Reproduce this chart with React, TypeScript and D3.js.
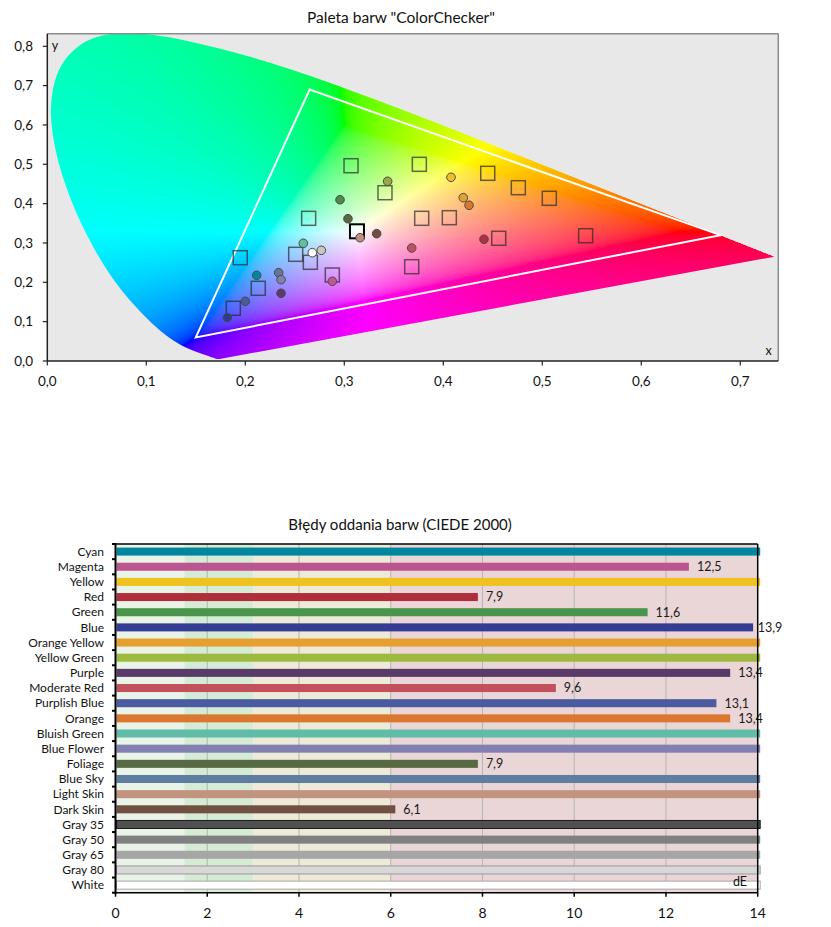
import React, { useMemo } from 'react';
import * as d3 from 'd3';

const FONT = 'Lato, "Open Sans", sans-serif';

// CIE 1931 2° spectral locus, 380–700 nm
const spectralLocus: [number, number][] = [
  [0.1741, 0.005], [0.174, 0.005], [0.1738, 0.0049], [0.1736, 0.0049], [0.1733, 0.0048],
  [0.173, 0.0048], [0.1726, 0.0048], [0.1721, 0.0048], [0.1714, 0.0051], [0.1703, 0.0058],
  [0.1689, 0.0069], [0.1669, 0.0086], [0.1644, 0.0109], [0.1611, 0.0138], [0.1566, 0.0177],
  [0.151, 0.0227], [0.144, 0.0297], [0.1355, 0.0399], [0.1241, 0.0578], [0.1096, 0.0868],
  [0.0913, 0.1327], [0.0687, 0.2007], [0.0454, 0.295], [0.0235, 0.4127], [0.0082, 0.5384],
  [0.0039, 0.6548], [0.0139, 0.7502], [0.0389, 0.812], [0.0743, 0.8338], [0.1142, 0.8262],
  [0.1547, 0.8059], [0.1929, 0.7816], [0.2296, 0.7543], [0.2658, 0.7243], [0.3016, 0.6923],
  [0.3373, 0.6589], [0.3731, 0.6245], [0.4087, 0.5896], [0.4441, 0.5547], [0.4788, 0.5202],
  [0.5125, 0.4866], [0.5448, 0.4544], [0.5752, 0.4242], [0.6029, 0.3965], [0.627, 0.3725],
  [0.6482, 0.3514], [0.6658, 0.334], [0.6801, 0.3197], [0.6915, 0.3083], [0.7006, 0.2993],
  [0.7079, 0.292], [0.714, 0.2859], [0.719, 0.2809], [0.726, 0.274], [0.73, 0.27],
  [0.7334, 0.2666], [0.7347, 0.2653],
];

// display gamut (DCI-P3 primaries: R, G, B)
const gamutX = [0.68, 0.265, 0.15];
const gamutY = [0.32, 0.69, 0.06];

// ColorChecker reference chromaticities (squares)
const targetX = [0.3068, 0.3758, 0.3411, 0.264, 0.3782, 0.4061, 0.1949, 0.2509, 0.2657, 0.2879,
  0.3681, 0.2131, 0.1879, 0.4449, 0.4758, 0.5071, 0.456, 0.5438];
const targetY = [0.4964, 0.5, 0.4278, 0.3627, 0.3627, 0.3643, 0.2626, 0.2712, 0.2509, 0.2186,
  0.2397, 0.1848, 0.134, 0.4771, 0.4405, 0.4136, 0.3119, 0.3185];
// white point target
const whiteTarget = [0.3128, 0.3297];

// measured patches (circles)
const measuredX = [0.3438, 0.2957, 0.3037, 0.3327, 0.3159, 0.2586, 0.2768, 0.2677, 0.2115, 0.2337,
  0.2361, 0.2879, 0.2361, 0.2, 0.1818, 0.4078, 0.4202, 0.426, 0.4411, 0.3681];
const measuredY = [0.4568, 0.41, 0.3617, 0.3236, 0.3134, 0.2992, 0.2814, 0.2753, 0.2178, 0.2245,
  0.2067, 0.2026, 0.1721, 0.1518, 0.1101, 0.467, 0.4151, 0.3958, 0.3094, 0.2872];
const measuredFill = ['#9aa84a', '#4a8a4a', '#5a6a40', '#704f40', '#c09080', '#60c0a0', '#c8c8c0',
  '#ffffff', '#0088a0', '#607898', '#8080b0', '#c05890', '#5a3a6a', '#4a5aa0', '#303a90',
  '#f0c030', '#e8a030', '#d87830', '#b03040', '#c05060'];

const cieXTicks = [0, 0.1, 0.2, 0.3, 0.4, 0.5, 0.6, 0.7];
const cieYTicks = [0, 0.1, 0.2, 0.3, 0.4, 0.5, 0.6, 0.7, 0.8];

// CIEDE2000 errors per patch
const patchNames = ['Cyan', 'Magenta', 'Yellow', 'Red', 'Green', 'Blue', 'Orange Yellow', 'Yellow Green',
  'Purple', 'Moderate Red', 'Purplish Blue', 'Orange', 'Bluish Green', 'Blue Flower', 'Foliage',
  'Blue Sky', 'Light Skin', 'Dark Skin', 'Gray 35', 'Gray 50', 'Gray 65', 'Gray 80', 'White'];
const deltaE = [16.4, 12.5, 17.2, 7.9, 11.6, 13.9, 15.8, 16.1, 13.4, 9.6, 13.1, 13.4, 15.2, 14.9,
  7.9, 15.5, 14.6, 6.1, 17.8, 16.9, 16.2, 15.4, 15.1];
const patchColors = ['#00879f', '#bb5590', '#eec31f', '#b02e3b', '#48954b', '#343c94', '#e6a030',
  '#9db93f', '#5a3a68', '#c2505d', '#4b5ba2', '#da7830', '#60bca6', '#8280b0', '#586a44', '#5f7da0',
  '#c29480', '#705040', '#505050', '#808080', '#a6a6a6', '#d8d8d8', '#ffffff'];
const patchStrokes: (string | null)[] = [null, null, null, null, null, null, null, null, null, null,
  null, null, null, null, null, null, null, null, '#1a1a1a', null, null, '#9a9a9a', '#a8a8a8'];

const ratingEdges = [0, 1.5, 3, 6, 14];
const ratingColors = ['#e9f3e7', '#d5ebd6', '#edead7', '#ead6d6'];
const errorTicks = [0, 2, 4, 6, 8, 10, 12, 14];

const cie = { left: 47.3, right: 778.3, top: 33.7, bottom: 361 };
const cx = d3.scaleLinear().domain([0, 0.7384]).range([cie.left, cie.right]);
const cy = d3.scaleLinear().domain([0, 0.832]).range([cie.bottom, cie.top]);

const err = { left: 115.5, right: 757.7, top: 544, bottom: 892.7 };
const ex = d3.scaleLinear().domain([0, 14]).range([err.left, err.right]);
const ey = d3.scaleBand<string>().domain(patchNames).range([err.top, err.bottom]);

const comma = (v: number, digits: number) => v.toFixed(digits).replace('.', ',');

// xy chromaticity -> displayable sRGB, desaturated toward D65 when out of gamut
function chromaRGB(x: number, y: number): [number, number, number] {
  const X = x / y;
  const Z = (1 - x - y) / y;
  let r = 3.2406 * X - 1.5372 - 0.4986 * Z;
  let g = -0.9689 * X + 1.8758 + 0.0415 * Z;
  let b = 0.0557 * X - 0.204 + 1.057 * Z;
  const lo = Math.min(r, g, b, 0);
  r -= lo; g -= lo; b -= lo;
  const m = Math.max(r, g, b);
  const enc = (c: number) => {
    const v = c / m;
    return 255 * (v <= 0.0031308 ? 12.92 * v : 1.055 * Math.pow(v, 1 / 2.4) - 0.055);
  };
  return [enc(r), enc(g), enc(b)];
}

const ChromaticityChart: React.FC = () => {
  const w = Math.round(cie.right - cie.left);
  const h = Math.round(cie.bottom - cie.top);

  const image = useMemo(() => {
    const canvas = document.createElement('canvas');
    canvas.width = w;
    canvas.height = h;
    const ctx = canvas.getContext('2d');
    if (!ctx) return '';
    const data = ctx.createImageData(w, h);
    for (let j = 0; j < h; j++) {
      const y = cy.invert(cie.top + j + 0.5);
      for (let i = 0; i < w; i++) {
        const x = cx.invert(cie.left + i + 0.5);
        const k = (j * w + i) * 4;
        if (y <= 0.001 || x + y > 1) continue;
        const [r, g, b] = chromaRGB(x, y);
        data.data[k] = r;
        data.data[k + 1] = g;
        data.data[k + 2] = b;
        data.data[k + 3] = 255;
      }
    }
    ctx.putImageData(data, 0, 0);
    return canvas.toDataURL();
  }, [w, h]);

  const locusPath = d3.line<[number, number]>()
    .x(d => cx(d[0]))
    .y(d => cy(d[1]))
    .curve(d3.curveCatmullRom)(spectralLocus) + 'Z';

  const gamutPoints = gamutX.map((gx, i) => `${cx(gx)},${cy(gamutY[i])}`).join(' ');
  const sq = 14;

  return (
    <g>
      <text x={401} y={18} textAnchor="middle" dy="0.35em" fontSize={15.5} fontFamily={FONT} fill="#111">
        Paleta barw "ColorChecker"
      </text>
      <rect x={cie.left} y={cie.top} width={cie.right - cie.left} height={cie.bottom - cie.top} fill="#e8e8e8" />
      <defs>
        <clipPath id="locus-clip">
          <path d={locusPath} />
        </clipPath>
        <clipPath id="plot-clip">
          <rect x={cie.left} y={cie.top} width={cie.right - cie.left} height={cie.bottom - cie.top} />
        </clipPath>
      </defs>
      <g clipPath="url(#plot-clip)">
        <image href={image} x={cie.left} y={cie.top} width={w} height={h} clipPath="url(#locus-clip)"
          preserveAspectRatio="none" />
      </g>
      <polygon points={gamutPoints} fill="none" stroke="#fff" strokeWidth={2} strokeLinejoin="miter" />

      {targetX.map((tx, i) => (
        <rect key={`t${i}`} x={cx(tx) - sq / 2} y={cy(targetY[i]) - sq / 2} width={sq} height={sq}
          fill="none" stroke="#2a2a2a" strokeOpacity={0.7} strokeWidth={1.5} />
      ))}
      <rect x={cx(whiteTarget[0]) - sq / 2} y={cy(whiteTarget[1]) - sq / 2} width={sq} height={sq}
        fill="none" stroke="#000" strokeWidth={2} />
      {measuredX.map((mx, i) => (
        <circle key={`m${i}`} cx={cx(mx)} cy={cy(measuredY[i])} r={4.3}
          fill={measuredFill[i]} stroke="#4a4a4a" strokeWidth={1} />
      ))}

      <line x1={cie.left} x2={cie.right} y1={cie.top} y2={cie.top} stroke="#8c8c8c" strokeWidth={1.5} />
      <line x1={cie.right} x2={cie.right} y1={cie.top} y2={cie.bottom} stroke="#8c8c8c" strokeWidth={1.5} />
      <line x1={cie.left} x2={cie.left} y1={cie.top} y2={cie.bottom} stroke="#222" strokeWidth={1.5} />
      <line x1={cie.left} x2={cie.right} y1={cie.bottom} y2={cie.bottom} stroke="#222" strokeWidth={1.5} />

      {cieYTicks.map(t => (
        <g key={`y${t}`}>
          <line x1={cie.left - 4.5} x2={cie.left} y1={cy(t)} y2={cy(t)} stroke="#222" strokeWidth={1.2} />
          <text x={33} y={cy(t)} dy="0.35em" textAnchor="end" fontSize={13.5} fontFamily={FONT} fill="#111">
            {comma(t, 1)}
          </text>
        </g>
      ))}
      {cieXTicks.map(t => (
        <g key={`x${t}`}>
          <line x1={cx(t)} x2={cx(t)} y1={cie.bottom} y2={cie.bottom + 4.5} stroke="#222" strokeWidth={1.2} />
          <text x={cx(t)} y={381} dy="0.35em" textAnchor="middle" fontSize={13.5} fontFamily={FONT} fill="#111">
            {comma(t, 1)}
          </text>
        </g>
      ))}
      <text x={55} y={46} dy="0.35em" textAnchor="middle" fontSize={12.5} fontFamily={FONT} fill="#111">y</text>
      <text x={768.5} y={351} dy="0.35em" textAnchor="middle" fontSize={12.5} fontFamily={FONT} fill="#111">x</text>
    </g>
  );
};

const ErrorChart: React.FC = () => {
  const bw = ey.bandwidth();
  const barH = bw * 0.53;
  const xMaxPx = ex(14) + 2.5;

  return (
    <g>
      <text x={400} y={525} dy="0.35em" textAnchor="middle" fontSize={15} fontFamily={FONT} fill="#111">
        Błędy oddania barw (CIEDE 2000)
      </text>

      {ratingColors.map((c, i) => (
        <rect key={`b${i}`} x={ex(ratingEdges[i])} y={err.top} width={ex(ratingEdges[i + 1]) - ex(ratingEdges[i])}
          height={err.bottom - err.top} fill={c} />
      ))}
      {errorTicks.slice(1, -1).map(t => (
        <line key={`g${t}`} x1={ex(t)} x2={ex(t)} y1={err.top} y2={err.bottom} stroke="#b4b4b4" strokeWidth={1} />
      ))}

      {patchNames.map((name, i) => {
        const yc = (ey(name) ?? 0) + bw / 2;
        const v = deltaE[i];
        const end = Math.min(ex(v), xMaxPx);
        const stroke = patchStrokes[i];
        return (
          <g key={name}>
            <rect x={err.left + 1} y={yc - barH / 2} width={end - err.left - 1} height={barH}
              fill={patchColors[i]} stroke={stroke ?? 'none'} strokeWidth={stroke ? 1 : 0} />
            {v <= 14 && (
              <text x={Math.min(ex(v) + 8, err.right)} y={yc} dy="0.35em" fontSize={12.5} fontFamily={FONT} fill="#1a1a1a">
                {comma(v, 1)}
              </text>
            )}
            <text x={104} y={yc} dy="0.35em" textAnchor="end" fontSize={12} fontFamily={FONT} fill="#111">
              {name}
            </text>
          </g>
        );
      })}

      <line x1={err.left} x2={err.right} y1={err.top} y2={err.top} stroke="#000" strokeWidth={1.5} />
      <line x1={err.right} x2={err.right} y1={err.top} y2={err.bottom} stroke="#000" strokeWidth={1.5} />
      <line x1={err.left} x2={err.left} y1={err.top - 1} y2={err.bottom + 1} stroke="#000" strokeWidth={2} />
      <line x1={err.left} x2={err.right} y1={err.bottom} y2={err.bottom} stroke="#000" strokeWidth={1.5} />
      {d3.range(patchNames.length + 1).map(k => {
        const yy = err.top + k * bw;
        return <line key={`lt${k}`} x1={err.left - 3.5} x2={err.left} y1={yy} y2={yy} stroke="#000" strokeWidth={2} />;
      })}
      {errorTicks.map(t => (
        <g key={`et${t}`}>
          <line x1={ex(t)} x2={ex(t)} y1={err.bottom} y2={err.bottom + 4} stroke="#000" strokeWidth={1.5} />
          <text x={ex(t)} y={913} dy="0.35em" textAnchor="middle" fontSize={14} fontFamily={FONT} fill="#111">
            {t}
          </text>
        </g>
      ))}
      <text x={740} y={882} dy="0.35em" textAnchor="middle" fontSize={12.5} fontFamily={FONT} fill="#111">dE</text>
    </g>
  );
};

export default function App() {
  return (
    <svg width={831} height={927} style={{ position: 'absolute', left: 0, top: 0, background: '#fff' }}>
      <ChromaticityChart />
      <ErrorChart />
    </svg>
  );
}
